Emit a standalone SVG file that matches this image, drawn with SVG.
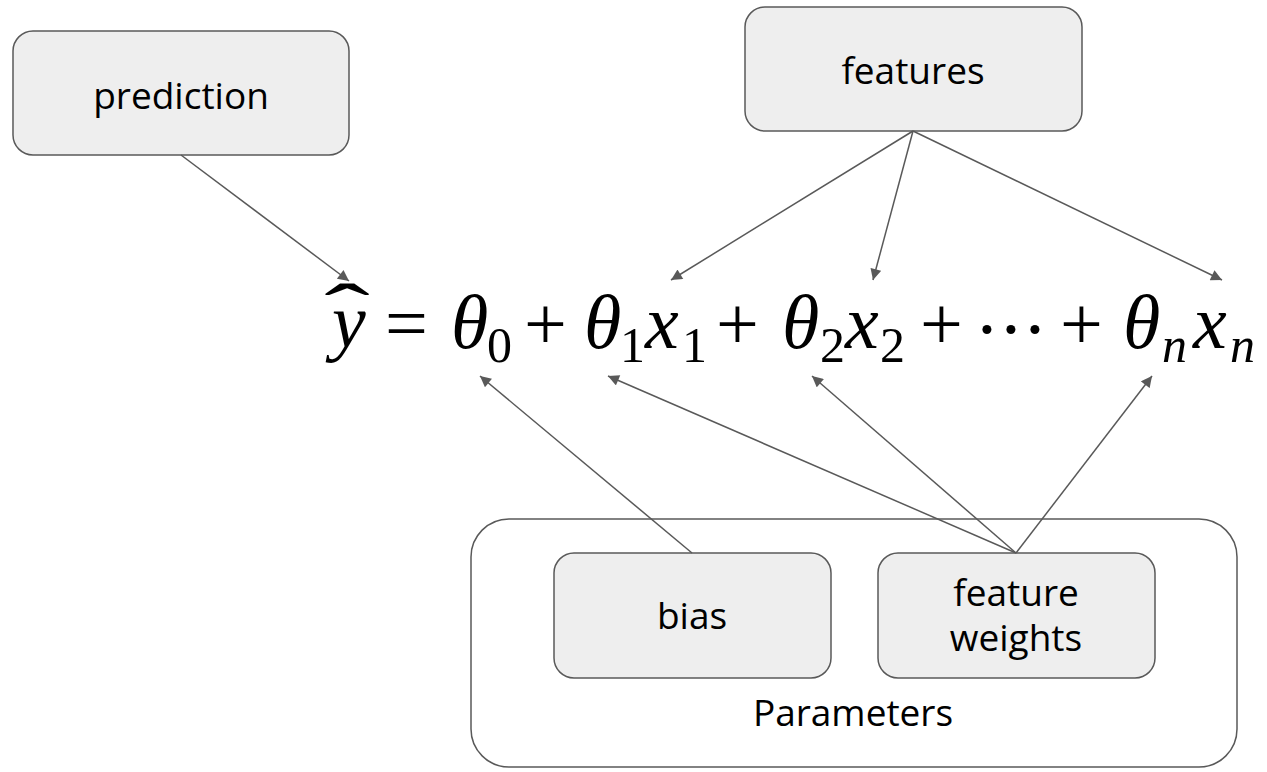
<svg xmlns="http://www.w3.org/2000/svg" width="1267" height="772" viewBox="0 0 1267 772">
<style>
.box{fill:#eeeeee;stroke:#595959;stroke-width:1.5}
.grp{fill:#ffffff;stroke:#595959;stroke-width:1.5}
.lbl{font-family:"Open Sans","Liberation Sans",sans-serif;font-size:37px;fill:#000;text-anchor:middle}
.m{font-family:"Liberation Serif","DejaVu Serif",serif;font-size:76px;fill:#000}
.mi{font-family:"Liberation Serif","DejaVu Serif",serif;font-style:italic;font-size:76px;fill:#000}
.sub{font-family:"Liberation Serif","DejaVu Serif",serif;font-size:50px;fill:#000}
.subi{font-family:"Liberation Serif","DejaVu Serif",serif;font-style:italic;font-size:50px;fill:#000}
.con{stroke:#595959;stroke-width:1.5;fill:none;marker-end:url(#ah)}
</style>
<defs>
<marker id="ah" viewBox="0 0 10 10" refX="10" refY="5" markerWidth="12" markerHeight="11" markerUnits="userSpaceOnUse" orient="auto">
<path d="M0,0 L10,5 L0,10 z" fill="#595959"/>
</marker>
</defs>
<g id="parameters">
<rect class="grp" x="471" y="519" width="766" height="248" rx="38"/>
<text class="lbl" x="853" y="726">Parameters</text>
</g>
<g id="prediction">
<rect class="box" x="13" y="31" width="336" height="124" rx="20"/>
<text class="lbl" x="181" y="109">prediction</text>
</g>
<g id="features">
<rect class="box" x="745" y="7" width="337" height="124" rx="20"/>
<text class="lbl" x="913" y="84">features</text>
</g>
<g id="bias">
<rect class="box" x="554" y="553" width="277" height="125" rx="20"/>
<text class="lbl" x="692" y="629">bias</text>
</g>
<g id="feature-weights">
<rect class="box" x="878" y="553" width="277" height="125" rx="20"/>
<text class="lbl" x="1016" y="606">feature</text>
<text class="lbl" x="1016" y="651">weights</text>
</g>
<g id="equation">
<text class="mi" x="332" y="347">y</text>
<text class="m" x="347" y="337" text-anchor="middle" transform="translate(347 0) scale(1.8 1) translate(-347 0)">ˆ</text>
<text class="m" x="385" y="349">=</text>
<text class="mi" x="451" y="348">θ</text>
<text class="sub" x="487" y="362">0</text>
<text class="m" x="524" y="349">+</text>
<text class="mi" x="584" y="348">θ</text>
<text class="sub" x="620" y="362">1</text>
<text class="mi" x="645" y="348">x</text>
<text class="sub" x="682" y="362">1</text>
<text class="m" x="716" y="349">+</text>
<text class="mi" x="782" y="348">θ</text>
<text class="sub" x="820" y="362">2</text>
<text class="mi" x="845" y="348">x</text>
<text class="sub" x="880" y="362">2</text>
<text class="m" x="920" y="349">+</text>
<text class="m" x="987" y="355" text-anchor="middle">·</text>
<text class="m" x="1011" y="355" text-anchor="middle">·</text>
<text class="m" x="1035" y="355" text-anchor="middle">·</text>
<text class="m" x="1060" y="349">+</text>
<text class="mi" x="1123" y="348">θ</text>
<text class="subi" x="1162" y="362">n</text>
<text class="mi" x="1193" y="348">x</text>
<text class="subi" x="1230" y="362">n</text>
</g>
<g id="connectors">
<line class="con" x1="181" y1="155" x2="349" y2="281"/>
<line class="con" x1="913" y1="131" x2="671" y2="280"/>
<line class="con" x1="913" y1="131" x2="873" y2="280"/>
<line class="con" x1="913" y1="131" x2="1222" y2="280"/>
<line class="con" x1="692" y1="553" x2="480" y2="376"/>
<line class="con" x1="1016" y1="553" x2="608" y2="376"/>
<line class="con" x1="1016" y1="553" x2="812" y2="376"/>
<line class="con" x1="1016" y1="553" x2="1152" y2="376"/>
</g>
</svg>
